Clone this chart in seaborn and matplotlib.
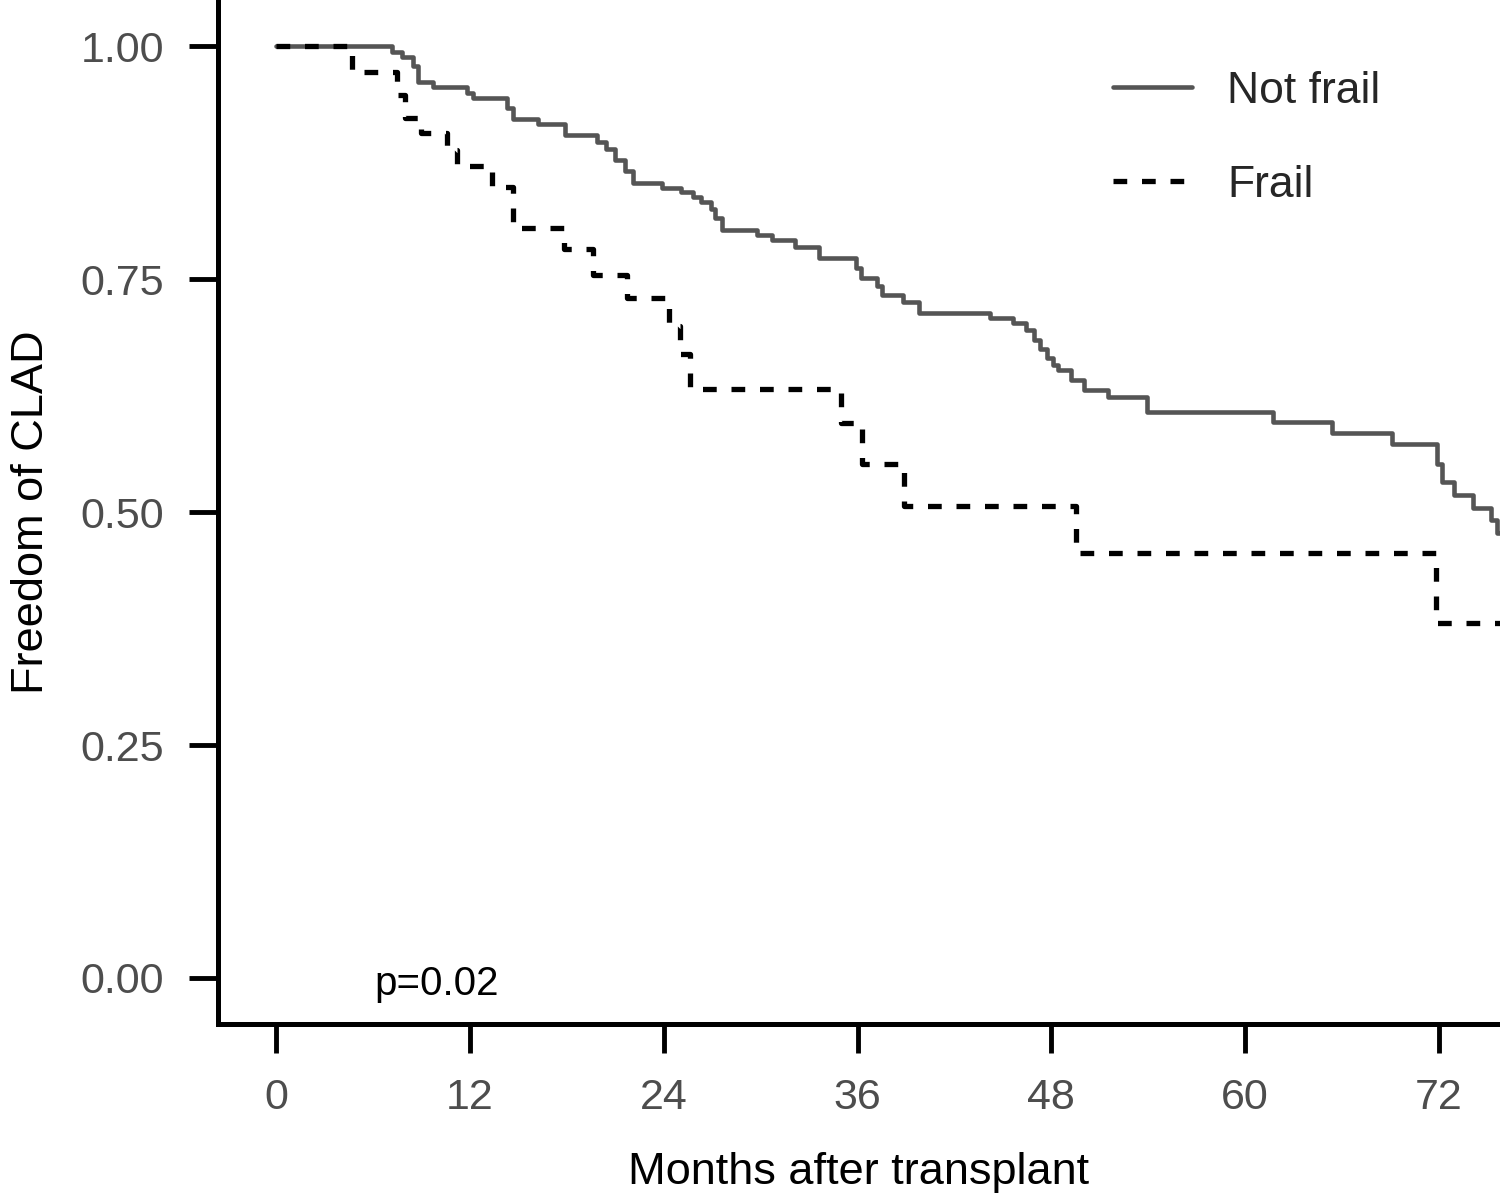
import pandas as pd
import matplotlib.pyplot as plt
import seaborn as sns

# Kaplan-Meier step data (months, survival after the drop)
not_frail_t = [0, 7.2, 7.8, 8.5, 8.8, 9.7, 11.8, 12.2, 14.3, 14.7, 16.2, 17.9,
               19.9, 20.4, 21.0, 21.6, 22.1, 23.9, 25.1, 25.8, 26.3, 26.9, 27.2,
               27.6, 29.8, 30.7, 32.1, 33.6, 35.9, 36.2, 37.2, 37.5, 38.8, 39.8,
               44.2, 45.6, 46.4, 46.9, 47.3, 47.7, 48.1, 48.4, 49.2, 50.0, 51.5,
               53.9, 61.7, 65.4, 69.1, 71.9, 72.2, 72.9, 74.1, 75.2, 75.6, 75.8]
not_frail_s = [1.0, 0.994, 0.988, 0.979, 0.961, 0.956, 0.950, 0.944, 0.933, 0.922,
               0.916, 0.905, 0.897, 0.889, 0.878, 0.866, 0.853, 0.848, 0.843, 0.838,
               0.833, 0.825, 0.815, 0.803, 0.797, 0.792, 0.784, 0.773, 0.762, 0.751,
               0.742, 0.733, 0.725, 0.714, 0.708, 0.703, 0.695, 0.685, 0.675, 0.665,
               0.658, 0.652, 0.642, 0.631, 0.623, 0.607, 0.597, 0.585, 0.573, 0.552,
               0.532, 0.518, 0.504, 0.491, 0.477, 0.477]

frail_t = [0, 4.7, 7.5, 8.0, 9.0, 10.6, 11.2, 13.4, 14.7, 17.8, 19.6, 21.7,
           24.3, 25.0, 25.6, 35.0, 36.3, 38.9, 49.5, 71.8, 75.8]
frail_s = [1.0, 0.972, 0.947, 0.923, 0.907, 0.888, 0.871, 0.849, 0.805, 0.782,
           0.754, 0.730, 0.700, 0.670, 0.632, 0.595, 0.551, 0.506, 0.456, 0.381,
           0.381]

x_ticks = [0, 12, 24, 36, 48, 60, 72]
y_ticks = [0.00, 0.25, 0.50, 0.75, 1.00]

df_nf = pd.DataFrame({"month": not_frail_t, "surv": not_frail_s})
df_f = pd.DataFrame({"month": frail_t, "surv": frail_s})

sns.set_style("white")
plt.rcParams["font.family"] = ["Liberation Sans", "DejaVu Sans"]

fig = plt.figure(figsize=(15, 11.97), dpi=100)
ax = fig.add_axes([0.1453, 0.1445, 0.8547, 0.8555])

sns.lineplot(data=df_nf, x="month", y="surv", ax=ax, color="#555555",
             linewidth=3.3, drawstyle="steps-post", estimator=None,
             label="Not frail")
sns.lineplot(data=df_f, x="month", y="surv", ax=ax, color="black",
             linewidth=3.8, linestyle=(0, (2.6, 2.8)), drawstyle="steps-post",
             estimator=None, label="Frail")

ax.set_xlim(-3.59, 75.77)
ax.set_ylim(-0.0494, 1.0494)
ax.set_xticks(x_ticks)
ax.set_xticklabels([str(v) for v in x_ticks])
ax.set_yticks(y_ticks)
ax.set_yticklabels([f"{v:.2f}" for v in y_ticks])

for side in ["top", "right"]:
    ax.spines[side].set_visible(False)
for side in ["left", "bottom"]:
    ax.spines[side].set_color("black")
    ax.spines[side].set_linewidth(3.6)
    ax.spines[side].set_capstyle("projecting")

ax.tick_params(axis="both", which="major", direction="out", length=21,
               width=3.5, color="black", labelsize=31, labelcolor="#4d4d4d",
               pad=18, left=True, bottom=True)

ax.set_xlabel("Months after transplant", fontsize=32.5, color="black", labelpad=24)
ax.set_ylabel("Freedom of CLAD", fontsize=32.5, color="black", labelpad=20)

ax.text(6.1, -0.018, "p=0.02", fontsize=29, color="black", ha="left",
        va="baseline")

ax.legend(loc="upper left", bbox_to_anchor=(0.698, 0.931), frameon=False,
          fontsize=32, handlelength=1.78, handletextpad=0.79, labelspacing=1.2,
          borderpad=0, borderaxespad=0)

fig.savefig("out.png", dpi=100)
